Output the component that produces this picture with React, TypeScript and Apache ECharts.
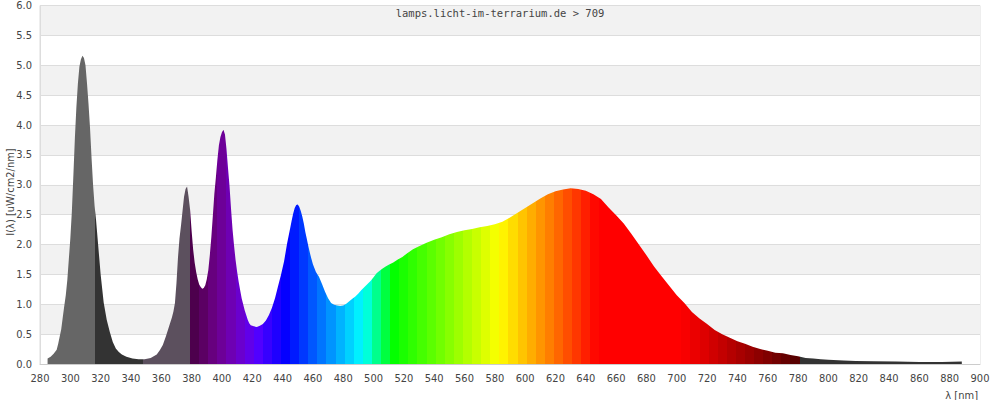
import React, { useEffect, useRef } from "react";
import * as echarts from "echarts";

const TITLE = "lamps.licht-im-terrarium.de > 709";
const X_NAME = "λ [nm]";
const Y_NAME = "I(λ) [uW/cm2/nm]";

// wavelength (nm) and spectral irradiance
const wavelengths = [
  285, 287, 289, 291, 292, 294, 295, 296, 297, 298, 299, 300, 301, 302, 303, 304, 305, 306, 307, 308,
  309, 310, 311, 312, 313, 314, 315, 316, 317, 318, 319, 320, 322, 324, 326, 328, 330, 332, 334, 337,
  341, 345, 349, 353, 357, 359, 361, 363, 365, 367, 368, 369, 370, 371, 372, 373, 374, 375, 376, 377,
  378, 379, 380, 381, 382, 383, 384, 385, 386, 387, 388, 389, 390, 391, 392, 393, 394, 395, 396, 397,
  398, 399, 400, 401, 402, 403, 404, 405, 406, 407, 408, 409, 410, 411, 412, 413, 414, 415, 416, 417,
  418, 419, 421, 423, 425, 427, 429, 431, 433, 435, 437, 439, 441, 443, 445, 446, 447, 448, 449, 450,
  451, 452, 453, 454, 455, 456, 457, 458, 459, 460, 462, 464, 466, 468, 470, 472, 474, 476, 478, 480,
  482, 484, 486, 488, 490, 492, 494, 496, 498, 500, 502, 504, 506, 508, 510, 513, 516, 519, 522, 526,
  530, 535, 540, 545, 550, 555, 560, 565, 570, 575, 580, 585, 590, 595, 600, 605, 610, 615, 620, 625,
  630, 635, 640, 645, 650, 655, 660, 665, 670, 675, 680, 685, 690, 695, 700, 705, 710, 715, 720, 725,
  730, 735, 740, 745, 750, 755, 760, 765, 770, 775, 780, 785, 790, 795, 800, 810, 818, 830, 845, 860,
  875, 888,
];
const intensities = [
  0.09, 0.12, 0.17, 0.24, 0.34, 0.58, 0.78, 0.97, 1.15, 1.4, 1.75, 2.1, 2.55, 3.15, 3.78, 4.3, 4.7, 4.98, 5.1, 5.16,
  5.12, 5.0, 4.7, 4.35, 3.95, 3.45, 3.0, 2.65, 2.4, 2.1, 1.8, 1.5, 1.03, 0.74, 0.54, 0.37, 0.26, 0.2, 0.16, 0.12,
  0.09, 0.08, 0.08, 0.1, 0.16, 0.23, 0.32, 0.46, 0.62, 0.78, 0.88, 1.02, 1.35, 1.78, 2.1, 2.32, 2.56, 2.8, 2.93, 2.97,
  2.8, 2.58, 2.23, 1.92, 1.7, 1.54, 1.42, 1.33, 1.29, 1.26, 1.27, 1.32, 1.42, 1.57, 1.82, 2.12, 2.48, 2.85, 3.12, 3.42,
  3.66, 3.8, 3.88, 3.92, 3.84, 3.6, 3.28, 2.98, 2.6, 2.25, 1.98, 1.74, 1.55, 1.38, 1.24, 1.1, 1.0, 0.9, 0.82, 0.74,
  0.68, 0.65, 0.63, 0.62, 0.64, 0.67, 0.73, 0.82, 0.94, 1.1, 1.3, 1.5, 1.72, 2.02, 2.27, 2.4, 2.52, 2.61, 2.66, 2.67,
  2.63, 2.56, 2.47, 2.35, 2.21, 2.09, 1.97, 1.86, 1.76, 1.67, 1.54, 1.46, 1.34, 1.21, 1.1, 1.02, 0.99, 0.98, 0.97, 0.98,
  1.01, 1.05, 1.09, 1.13, 1.18, 1.24, 1.29, 1.34, 1.39, 1.45, 1.52, 1.56, 1.6, 1.63, 1.66, 1.7, 1.75, 1.79, 1.85, 1.92,
  1.97, 2.03, 2.08, 2.12, 2.17, 2.21, 2.24, 2.26, 2.29, 2.31, 2.34, 2.38, 2.45, 2.53, 2.61, 2.69, 2.77, 2.84, 2.89, 2.92,
  2.94, 2.93, 2.9, 2.84, 2.76, 2.62, 2.49, 2.35, 2.18, 2.0, 1.82, 1.63, 1.47, 1.31, 1.15, 1.02, 0.87, 0.76, 0.67, 0.57,
  0.5, 0.44, 0.38, 0.34, 0.29, 0.25, 0.22, 0.19, 0.18, 0.15, 0.13, 0.1, 0.09, 0.08, 0.07, 0.06, 0.05, 0.045, 0.04, 0.035,
  0.035, 0.04,
];

// colour bands (nm boundaries) outside the visible range
const UV_B_END = 316;
const UV_A1_END = 348;
const VIS_START = 379;
const VIS_END = 781;
const VIS_STEP = 6;

const FONT = "'DejaVu Sans Condensed', 'DejaVu Sans', sans-serif";

function hex(v: number) {
  const n = Math.max(0, Math.min(255, Math.round(v * 255)));
  return n.toString(16).padStart(2, "0");
}

function spectralColor(lambda: number) {
  const l = Math.max(380, Math.min(780, lambda));
  let r = 0, g = 0, b = 0;
  if (l < 440) { r = -(l - 440) / 60; b = 1; }
  else if (l < 490) { g = (l - 440) / 50; b = 1; }
  else if (l < 510) { g = 1; b = -(l - 510) / 20; }
  else if (l < 580) { r = (l - 510) / 70; g = 1; }
  else if (l < 645) { r = 1; g = -(l - 645) / 65; }
  else { r = 1; }
  let f = 1;
  if (l < 420) f = 0.3 + (0.7 * (l - 380)) / 40;
  else if (l > 700) f = 0.3 + (0.7 * (780 - l)) / 80;
  return "#" + hex(r * f) + hex(g * f) + hex(b * f);
}

function buildPieces() {
  const pieces: any[] = [
    { gte: 0, lt: UV_B_END, color: "#666666" },
    { gte: UV_B_END, lt: UV_A1_END, color: "#333333" },
    { gte: UV_A1_END, lt: VIS_START, color: "#5c505e" },
  ];
  for (let s = VIS_START; s < VIS_END; s += VIS_STEP) {
    pieces.push({ gte: s, lt: Math.min(s + VIS_STEP, VIS_END), color: spectralColor(s) });
  }
  pieces.push({ gte: VIS_END, lte: 2000, color: "#333333" });
  return pieces;
}

export default function App() {
  const ref = useRef<HTMLDivElement>(null);
  useEffect(() => {
    if (!ref.current) return;
    const chart = echarts.init(ref.current, undefined, { renderer: "svg" });
    const data = wavelengths.map((w, i) => [w, intensities[i]]);
    chart.setOption({
      animation: false,
      backgroundColor: "#ffffff",
      title: {
        text: TITLE,
        left: "center",
        top: 7,
        padding: 0,
        textStyle: { fontFamily: "'DejaVu Sans Mono', monospace", fontSize: 10.5, fontWeight: "normal", color: "#444" },
      },
      grid: { left: 40, right: 20, top: 3, bottom: 36, show: true, borderColor: "#dddddd", borderWidth: 1, backgroundColor: "transparent" },
      xAxis: {
        type: "value",
        min: 280,
        max: 900,
        interval: 20,
        axisLine: { show: true, lineStyle: { color: "#cccccc" } },
        axisTick: { show: false },
        splitLine: { show: false },
        axisLabel: { color: "#444", fontSize: 11, fontFamily: FONT, margin: 9 },
      },
      yAxis: {
        type: "value",
        min: 0,
        max: 6,
        interval: 0.5,
        axisLine: { show: true, lineStyle: { color: "#dddddd" } },
        axisTick: { show: false },
        axisLabel: { color: "#444", fontSize: 11, fontFamily: FONT, margin: 8, formatter: (v: number) => v.toFixed(1) },
        splitLine: { show: true, lineStyle: { color: "#dddddd", width: 1 } },
        splitArea: { show: true, areaStyle: { color: ["#ffffff", "#f2f2f2"] } },
      },
      visualMap: { type: "piecewise", show: false, dimension: 0, seriesIndex: 0, pieces: buildPieces() },
      series: [
        {
          type: "line",
          data,
          symbol: "none",
          showSymbol: false,
          smooth: false,
          lineStyle: { width: 0 },
          areaStyle: { opacity: 1 },
          z: 3,
        },
      ],
      graphic: [
        {
          type: "text",
          x: 978,
          y: 395,
          style: { text: X_NAME, align: "right", verticalAlign: "middle", fill: "#444", fontSize: 11, fontFamily: FONT },
        },
        {
          type: "text",
          x: 10,
          y: 192,
          rotation: Math.PI / 2,
          style: { text: Y_NAME, align: "center", verticalAlign: "middle", fill: "#444", fontSize: 11, fontFamily: FONT },
        },
      ],
    });
    return () => chart.dispose();
  }, []);
  return <div ref={ref} style={{ width: 1000, height: 400, position: "absolute", left: 0, top: 0 }} />;
}
